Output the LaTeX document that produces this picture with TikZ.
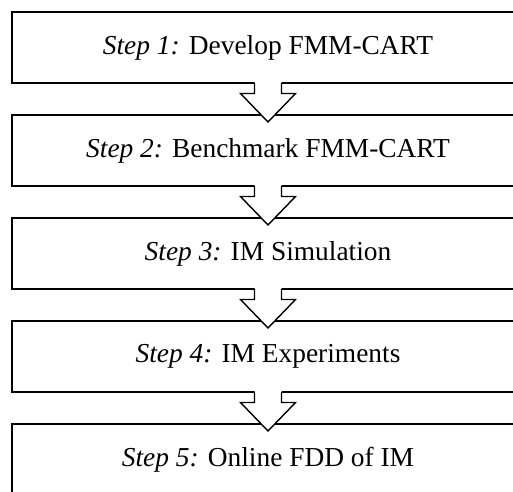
\documentclass[tikz,border=0pt]{standalone}
\usepackage{fontspec}
\setmainfont{Liberation Serif}
\usetikzlibrary{positioning,calc}

\begin{document}
\begin{tikzpicture}[
  x=1bp, y=-1bp,
  every node/.style={font=\fontsize{27.5pt}{33pt}\selectfont},
  stepbox/.style={draw, line width=2bp, minimum width=511bp,
                  minimum height=71bp, inner sep=0pt},
  flowline/.style={draw, line width=1.4bp, line join=miter},
]
\clip (0,0) rectangle (513,492);

\node[stepbox] (step1) at (268,47.5) {\textit{Step 1:} Develop FMM-CART};
\node[stepbox, below=30bp of step1] (step2) {\textit{Step 2:} Benchmark FMM-CART};
\node[stepbox, below=30bp of step2] (step3) {\textit{Step 3:} IM Simulation};
\node[stepbox, below=30bp of step3] (step4) {\textit{Step 4:} IM Experiments};
\node[stepbox, below=30bp of step4] (step5) {\textit{Step 5:} Online FDD of IM};

% hollow block arrows between the steps
\foreach \a/\b in {step1/step2, step2/step3, step3/step4, step4/step5} {
  \fill[white] ($(\a.south)+(-13.5,-3)$) -- ($(\a.south)+(-13.5,9.5)$)
    -- ($(\a.south)+(-27.5,9.5)$) -- ($(\b.north)+(0,8)$)
    -- ($(\a.south)+(27.5,9.5)$) -- ($(\a.south)+(13.5,9.5)$)
    -- ($(\a.south)+(13.5,-3)$) -- cycle;
  \draw[flowline] ($(\a.south)+(-13.5,-1)$) -- ($(\a.south)+(-13.5,9.5)$)
    -- ($(\a.south)+(-27.5,9.5)$) -- ($(\b.north)+(0,8)$)
    -- ($(\a.south)+(27.5,9.5)$) -- ($(\a.south)+(13.5,9.5)$)
    -- ($(\a.south)+(13.5,-1)$);
}
\end{tikzpicture}
\end{document}
